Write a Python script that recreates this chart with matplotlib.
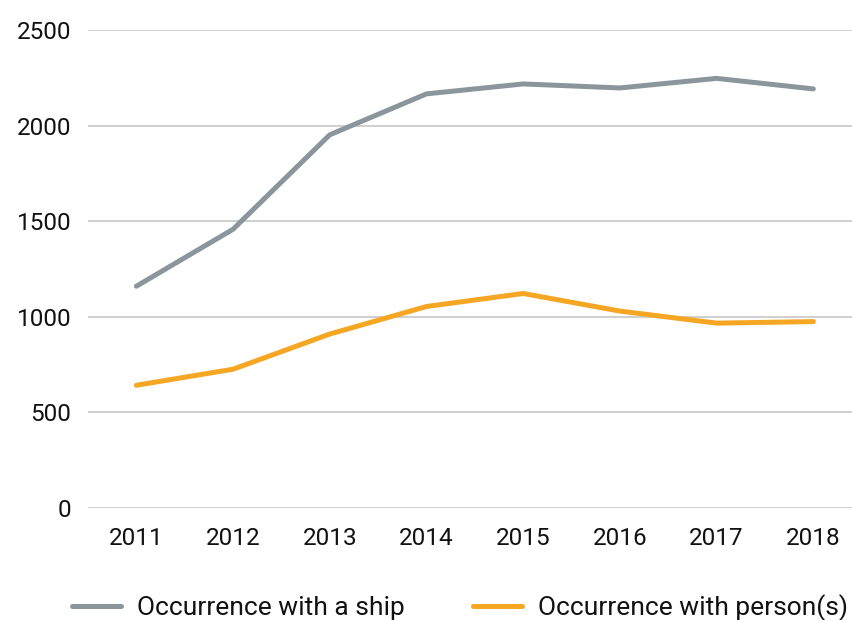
import matplotlib
matplotlib.use("Agg")
import matplotlib.pyplot as plt

# donnees
years = [2011, 2012, 2013, 2014, 2015, 2016, 2017, 2018]
ship = [1160, 1458, 1952, 2166, 2218, 2197, 2247, 2192]
persons = [642, 726, 910, 1054, 1122, 1030, 967, 975]

yticks = [0, 500, 1000, 1500, 2000, 2500]

plt.rcParams['font.family'] = ['Roboto', 'DejaVu Sans']

fig = plt.figure(figsize=(8.52, 6.2), dpi=100)
ax = fig.add_axes([0.1033, 0.1806, 0.8967, 0.771])

ax.plot(years, ship, color='#8a969c', lw=3.6, solid_capstyle='round',
        solid_joinstyle='round', label='Occurrence with a ship', zorder=3)
ax.plot(years, persons, color='#f5a623', lw=3.6, solid_capstyle='round',
        solid_joinstyle='round', label='Occurrence with person(s)', zorder=3)

ax.set_ylim(0, 2500)
ax.set_xlim(2010.5, 2018.4)
ax.set_yticks(yticks)
ax.set_xticks(years)
ax.grid(axis='y', color='#cccccc', lw=1.3)
ax.set_axisbelow(True)
for s in ax.spines.values():
    s.set_visible(False)
ax.tick_params(length=0, labelsize=17.5, colors='#111111')
ax.tick_params(axis='y', pad=12)
ax.tick_params(axis='x', pad=14)

fig.legend(loc='lower center', bbox_to_anchor=(0.54, -0.04), ncol=2,
           frameon=False, fontsize=19, handlelength=1.85, columnspacing=2.6,
           handletextpad=0.6, labelcolor='#111111')

fig.savefig('out.png', dpi=100)
